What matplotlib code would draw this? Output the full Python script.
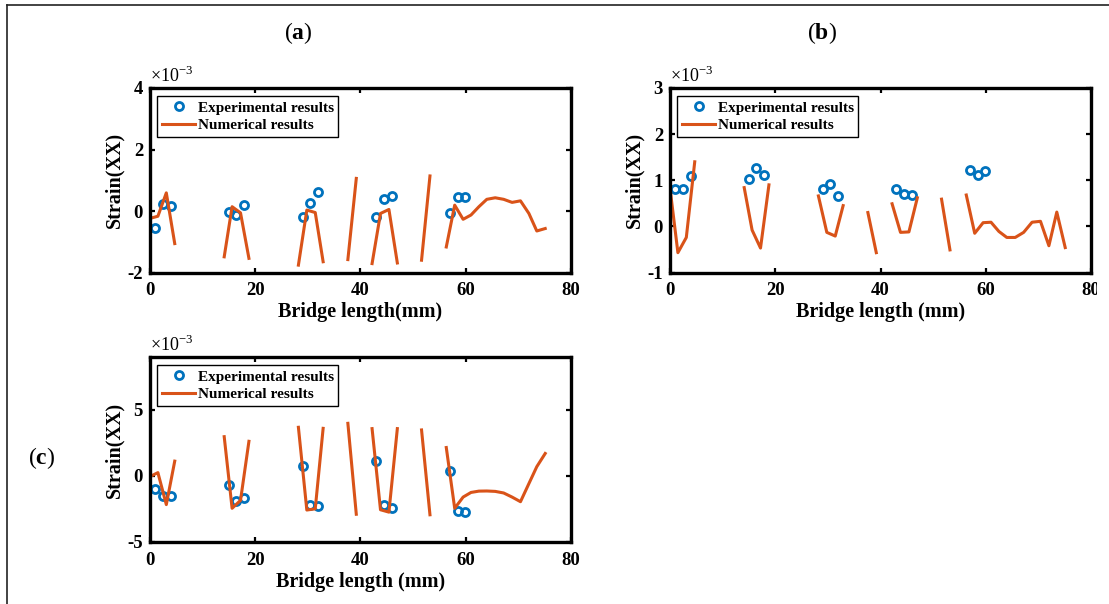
import numpy as np
import matplotlib
matplotlib.use('Agg')
import matplotlib.pyplot as plt
from matplotlib.lines import Line2D
from matplotlib.patches import Rectangle

plt.rcParams['font.family'] = 'Liberation Serif'
plt.rcParams['mathtext.fontset'] = 'custom'
plt.rcParams['mathtext.rm'] = 'Liberation Serif'
plt.rcParams['mathtext.bf'] = 'Liberation Serif:bold'
plt.rcParams['axes.unicode_minus'] = False

nan = np.nan

# gauge positions along the bridge (mm)
gauge_x = [1.0, 2.4, 3.9, 15.0, 16.4, 17.9, 29.0, 30.4, 31.9,
           43.0, 44.5, 45.9, 57.0, 58.5, 59.9]

# measured strain (x10^-3)
exp_a = [-0.55, 0.22, 0.16, -0.02, -0.13, 0.19, -0.21, 0.27, 0.63,
         -0.18, 0.39, 0.50, -0.08, 0.45, 0.46]
exp_b = [0.81, 0.82, 1.10, 1.03, 1.27, 1.12, 0.81, 0.91, 0.65,
         0.81, 0.71, 0.67, 1.22, 1.12, 1.21]
exp_c = [-0.98, -1.50, -1.55, -0.71, -1.90, -1.68, 0.78, -2.22, -2.28,
         1.12, -2.21, -2.41, 0.36, -2.64, -2.74]

# FE nodes, nan breaks the curve between the bridge members
fe_x = [0.0, 1.5, 3.1, 4.7, nan,
        14.1, 15.6, 17.2, 18.8, nan,
        28.2, 29.8, 31.4, 32.9, nan,
        37.6, 39.2, nan,
        42.2, 43.8, 45.4, 47.0, nan,
        51.6, 53.2, nan,
        56.3, 57.9, 59.5, 61.0, 62.5, 64.0, 65.6, 67.2, 68.8, 70.4, 72.0, 73.5, 75.1]

fe_a = [-0.24, -0.17, 0.59, -1.06, nan,
        -1.49, 0.14, -0.06, -1.54, nan,
        -1.76, 0.03, -0.05, -1.65, nan,
        -1.58, 1.06, nan,
        -1.71, -0.08, 0.05, -1.69, nan,
        -1.60, 1.14, nan,
        -1.17, 0.19, -0.27, -0.13, 0.14, 0.38, 0.43, 0.38, 0.28, 0.33, -0.08, -0.65, -0.57]
fe_b = [0.83, -0.57, -0.24, 1.40, nan,
        0.84, -0.08, -0.47, 0.90, nan,
        0.66, -0.13, -0.21, 0.45, nan,
        0.30, -0.57, nan,
        0.49, -0.13, -0.12, 0.62, nan,
        0.59, -0.51, nan,
        0.68, -0.15, 0.08, 0.09, -0.11, -0.24, -0.24, -0.13, 0.09, 0.11, -0.42, 0.31, -0.46]
fe_c = [-0.05, 0.25, -2.17, 1.12, nan,
        2.97, -2.45, -1.85, 2.62, nan,
        3.68, -2.58, -2.49, 3.60, nan,
        3.98, -2.90, nan,
        3.58, -2.56, -2.74, 3.58, nan,
        3.48, -2.94, nan,
        2.15, -2.45, -1.60, -1.25, -1.15, -1.14, -1.17, -1.29, -1.60, -1.95, -0.58, 0.70, 1.70]

ylims = {'a': (-2, 4), 'b': (-1, 3), 'c': (-5, 9)}
yticks = {'a': [-2, 0, 2, 4], 'b': [-1, 0, 1, 2, 3], 'c': [-5, 0, 5]}
xlabels = {'a': 'Bridge length(mm)', 'b': 'Bridge length (mm)', 'c': 'Bridge length (mm)'}

blue = '#0072BD'
orange = '#D95319'

W, H = 1109, 604
fig = plt.figure(figsize=(W / 100, H / 100), dpi=100)


def px_axes(x0, y0, x1, y1):
    return fig.add_axes([x0 / W, 1 - y1 / H, (x1 - x0) / W, (y1 - y0) / H])


axes = {
    'a': px_axes(150, 88, 571, 272.5),
    'b': px_axes(670, 88, 1091, 272.5),
    'c': px_axes(150, 357, 571, 542),
}
data = {'a': (exp_a, fe_a), 'b': (exp_b, fe_b), 'c': (exp_c, fe_c)}

for key, ax in axes.items():
    ev, fv = data[key]
    ax.plot(gauge_x, ev, 'o', ls='none', mfc='none', mec=blue, ms=5.8, mew=2.0,
            label='Experimental results')
    ax.plot(fe_x, fv, '-', color=orange, lw=2.2, label='Numerical results')
    ax.set_xlim(0, 80)
    ax.set_ylim(*ylims[key])
    ax.set_xticks([0, 20, 40, 60, 80])
    ax.set_yticks(yticks[key])
    ax.tick_params(direction='in', top=True, right=True, length=3.5, width=1.6,
                   labelsize=13.5, pad=5)
    ax.tick_params(axis='x', pad=7)
    for lab in ax.get_xticklabels() + ax.get_yticklabels():
        lab.set_fontweight('bold')
    for sp in ax.spines.values():
        sp.set_linewidth(2.4)
    ax.set_xlabel(xlabels[key], fontsize=14.5, fontweight='bold', labelpad=2)
    ax.set_ylabel('Strain(XX)', fontsize=14.5, fontweight='bold', labelpad=2)
    ax.text(0.0, 1.01, r'$\times10^{-3}$', transform=ax.transAxes,
            fontsize=13, ha='left', va='bottom')
    leg = ax.legend(loc='upper left', bbox_to_anchor=(0.017, 0.955), borderaxespad=0,
                    fancybox=False, framealpha=1, edgecolor='black',
                    prop={'weight': 'bold', 'size': 11},
                    handlelength=2.2, handletextpad=0.15, labelspacing=0.25,
                    borderpad=0.3)
    leg.get_frame().set_linewidth(1.0)

# panel letters
fig.text(298 / W, 1 - 33 / H, r'($\mathbf{a}$)', fontsize=17, ha='center', va='center')
fig.text(822 / W, 1 - 33 / H, r'($\mathbf{b}$)', fontsize=17, ha='center', va='center')
fig.text(42 / W, 1 - 458 / H, r'($\mathbf{c}$)', fontsize=17, ha='center', va='center')

# right edge trimmed like the published panel
fig.patches.append(Rectangle((1097 / W, 0), 12 / W, 1 - 8 / H, transform=fig.transFigure,
                             facecolor='white', edgecolor='none', zorder=5))
# outer frame (top and left only)
fig.add_artist(Line2D([7 / W, 1], [1 - 4.5 / H, 1 - 4.5 / H], color='#222222', lw=1.2))
fig.add_artist(Line2D([7 / W, 7 / W], [0, 1 - 4.5 / H], color='#222222', lw=1.2))

fig.savefig('out.png', dpi=100)
